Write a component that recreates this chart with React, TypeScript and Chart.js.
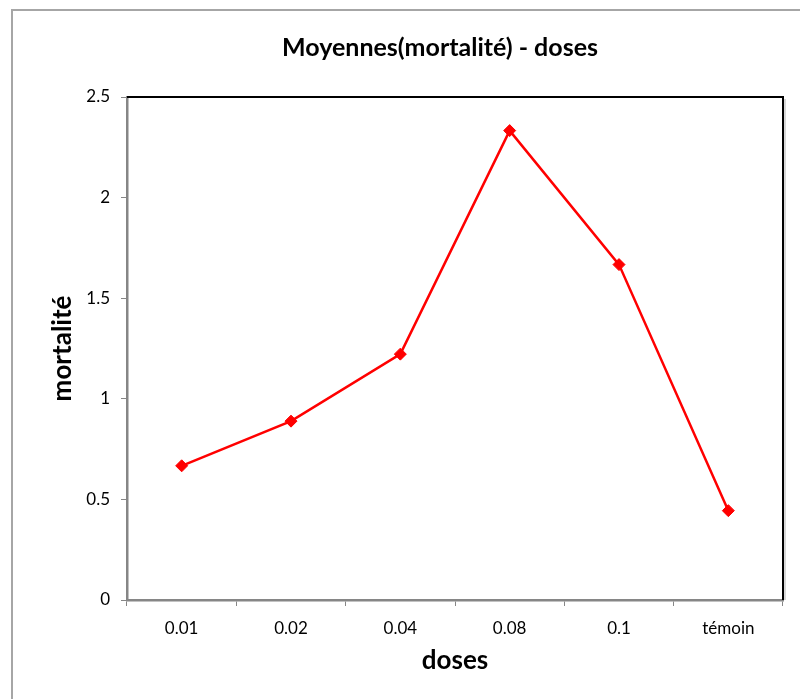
import React, { useEffect, useRef } from "react";
import { Chart, registerables } from "chart.js";

Chart.register(...registerables);

const categories = ["0.01", "0.02", "0.04", "0.08", "0.1", "témoin"];
const mortalite = [0.667, 0.889, 1.222, 2.333, 1.667, 0.444];
const yMin = 0;
const yMax = 2.5;
const yStep = 0.5;
const chartTitle = "Moyennes(mortalité) - doses";
const xTitle = "doses";
const yTitle = "mortalité";

const FONT = "Lato, 'Noto Sans', sans-serif";
const AXIS_GRAY = "#868686";

const plotBorderPlugin = {
  id: "plotBorder",
  beforeDatasetsDraw(chart: any) {
    const { ctx, chartArea } = chart;
    ctx.save();
    ctx.beginPath();
    ctx.strokeStyle = "#b0b0b0";
    ctx.lineWidth = 1;
    ctx.moveTo(chartArea.right + 2, chartArea.top + 2);
    ctx.lineTo(chartArea.right + 2, chartArea.bottom);
    ctx.stroke();
    ctx.beginPath();
    ctx.strokeStyle = "#000";
    ctx.lineWidth = 2;
    ctx.moveTo(chartArea.left, chartArea.top);
    ctx.lineTo(chartArea.right, chartArea.top);
    ctx.lineTo(chartArea.right, chartArea.bottom);
    ctx.stroke();
    ctx.beginPath();
    ctx.restore();
  },
};

export default function App() {
  const ref = useRef<HTMLCanvasElement | null>(null);

  useEffect(() => {
    if (!ref.current) return;
    const chart = new Chart(ref.current, {
      type: "line",
      data: {
        labels: categories,
        datasets: [
          {
            data: mortalite,
            borderColor: "#ff0000",
            backgroundColor: "#ff0000",
            borderWidth: 2.5,
            pointStyle: "rectRot",
            pointRadius: 6,
            pointBackgroundColor: "#ff0000",
            pointBorderColor: "#ff0000",
            pointBorderWidth: 1,
            tension: 0,
            fill: false,
            yAxisID: "y",
          },
        ],
      },
      options: {
        animation: false,
        responsive: true,
        maintainAspectRatio: false,
        layout: { padding: 0 },
        plugins: {
          legend: { display: false },
          tooltip: { enabled: false },
          title: {
            display: true,
            text: chartTitle,
            color: "#000",
            font: { family: FONT, size: 25, weight: "bold" },
            padding: { top: 33, bottom: 34 },
          },
        },
        scales: {
          x: {
            type: "category",
            offset: true,
            grid: {
              offset: true,
              display: true,
              drawOnChartArea: false,
              drawTicks: true,
              tickLength: 6,
              color: AXIS_GRAY,
              lineWidth: 1,
            },
            border: { display: true, color: AXIS_GRAY, width: 2.5 },
            ticks: {
              color: "#000",
              font: { family: FONT, size: 17 },
              padding: 12,
              maxRotation: 0,
              autoSkip: false,
            },
            title: {
              display: true,
              text: xTitle,
              color: "#000",
              font: { family: FONT, size: 26, weight: "bold" },
              padding: { top: 0, bottom: 23 },
            },
            afterFit(s: any) {
              s.height = 99;
            },
          },
          y: {
            min: yMin,
            max: yMax,
            ticks: {
              stepSize: yStep,
              color: "#000",
              font: { family: FONT, size: 17 },
              padding: 11,
              callback: (v: any) => String(v),
            },
            grid: {
              display: true,
              drawOnChartArea: false,
              drawTicks: true,
              tickLength: 6,
              color: AXIS_GRAY,
            },
            border: { display: true, color: AXIS_GRAY, width: 2.5 },
            title: {
              display: true,
              text: yTitle,
              color: "#000",
              font: { family: FONT, size: 26, weight: "bold" },
              padding: { top: 47, bottom: 0 },
            },
            afterFit(s: any) {
              s.width = 127;
            },
          },
          y2: {
            position: "right",
            display: true,
            min: yMin,
            max: yMax,
            grid: { display: false, drawTicks: false },
            ticks: { display: false },
            border: { display: false },
            afterFit(s: any) {
              s.width = 97;
            },
          },
        },
      },
      plugins: [plotBorderPlugin],
    } as any);
    return () => chart.destroy();
  }, []);

  return (
    <div
      style={{
        position: "fixed",
        left: 0,
        top: 0,
        width: 800,
        height: 699,
        overflow: "hidden",
        background: "#fff",
      }}
    >
      <div
        style={{
          position: "absolute",
          left: 11,
          top: 9,
          width: 1000,
          height: 1000,
          borderTop: "2px solid #a6a6a6",
          borderLeft: "2px solid #a6a6a6",
        }}
      />
      <div style={{ position: "absolute", left: 0, top: 0, width: 880, height: 699 }}>
        <canvas ref={ref} />
      </div>
    </div>
  );
}
